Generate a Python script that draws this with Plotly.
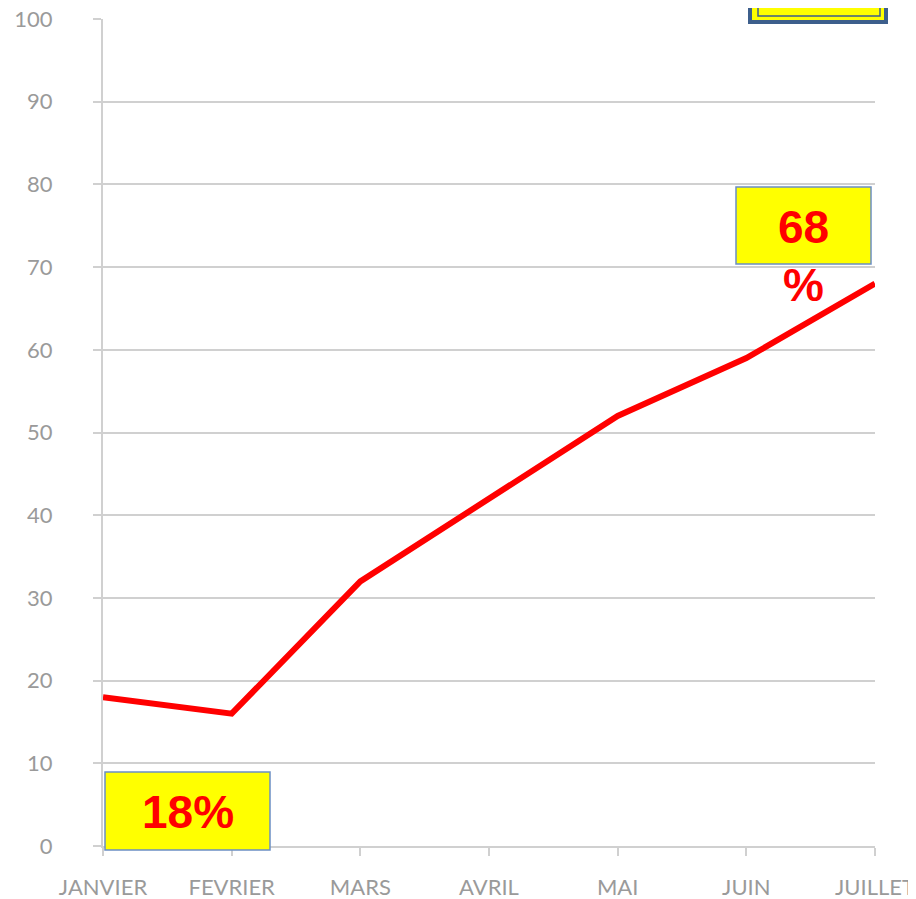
import plotly.graph_objects as go

months = ["JANVIER", "FEVRIER", "MARS", "AVRIL", "MAI", "JUIN", "JUILLET"]
values = [18, 16, 32, 42, 52, 59, 68]
y_ticks = [0, 10, 20, 30, 40, 50, 60, 70, 80, 90, 100]

# page offset introduced by the default body margin of the html page
OFF = 8
W, H = 916, 899
# plot area in page pixels
L, R, T, B = 103, 875, 19, 846

def px(x):
    return (x - L) / (R - L)

def py(y):
    return (B - y) / (B - T)

fig = go.Figure()
fig.add_trace(go.Scatter(
    x=months, y=values, mode="lines",
    line=dict(color="#ff0000", width=6),
    hoverinfo="skip", showlegend=False, cliponaxis=False,
))

axis_col = "#d0d0d0"
font_col = "#9a9a9a"
fig.update_layout(
    width=W, height=H,
    margin=dict(l=L - OFF, r=W - (R - OFF), t=T - OFF, b=H - (B - OFF), autoexpand=False),
    paper_bgcolor="white", plot_bgcolor="white",
    font=dict(family="Lato, 'Open Sans', sans-serif", size=22, color=font_col),
    xaxis=dict(
        type="category", range=[0, len(months) - 1], automargin=False,
        showgrid=False, showline=True, linecolor=axis_col, linewidth=2,
        ticks="outside", ticklen=8, tickcolor=axis_col, tickwidth=2,
        ticklabelstandoff=13, zeroline=False, ticklabeloverflow="allow",
    ),
    yaxis=dict(
        range=[0, 100], tickvals=y_ticks, automargin=False,
        showgrid=True, gridcolor=axis_col, gridwidth=2,
        showline=True, linecolor=axis_col, linewidth=2,
        ticks="outside", ticklen=8, tickcolor=axis_col, tickwidth=2,
        ticklabelstandoff=36, zeroline=False, ticklabeloverflow="allow",
    ),
)

shapes = []
# top-right framed box (cut off at top)
shapes.append(dict(type="rect", xref="paper", yref="paper",
                   x0=px(748), x1=px(888), y0=py(24), y1=py(-20),
                   fillcolor="#3d5f8c", line=dict(width=0), layer="above"))
shapes.append(dict(type="rect", xref="paper", yref="paper",
                   x0=px(752), x1=px(884), y0=py(20), y1=py(-20),
                   fillcolor="#ffff00", line=dict(width=0), layer="above"))
shapes.append(dict(type="rect", xref="paper", yref="paper",
                   x0=px(758), x1=px(880), y0=py(16), y1=py(-20),
                   fillcolor="rgba(0,0,0,0)", line=dict(color="#3d5f8c", width=1.5), layer="above"))
shapes.append(dict(type="rect", xref="paper", yref="paper",
                   x0=px(776), x1=px(860), y0=py(2), y1=py(-20),
                   fillcolor="#ffff00", line=dict(color="#3d5f8c", width=2.5), layer="above"))
# 68 box
shapes.append(dict(type="rect", xref="paper", yref="paper",
                   x0=px(736), x1=px(871), y0=py(264), y1=py(187),
                   fillcolor="#ffff00", line=dict(color="#6b8fc4", width=1.5), layer="above"))
# 18% box
shapes.append(dict(type="rect", xref="paper", yref="paper",
                   x0=px(105), x1=px(270), y0=py(850), y1=py(772),
                   fillcolor="#ffff00", line=dict(color="#6b8fc4", width=1.5), layer="above"))
fig.update_layout(shapes=shapes)

lab_font = dict(family="Liberation Sans, Arial, sans-serif", size=46, color="#ff0000")
fig.add_annotation(xref="paper", yref="paper", x=px(803), y=py(227),
                   text="<b>68</b>", showarrow=False, font=lab_font,
                   xanchor="center", yanchor="middle")
fig.add_annotation(xref="paper", yref="paper", x=px(803), y=py(285),
                   text="<b>%</b>", showarrow=False, font=lab_font,
                   xanchor="center", yanchor="middle")
fig.add_annotation(xref="paper", yref="paper", x=px(188), y=py(812),
                   text="<b>18%</b>", showarrow=False, font=lab_font,
                   xanchor="center", yanchor="middle")

fig.write_html("out.html")
